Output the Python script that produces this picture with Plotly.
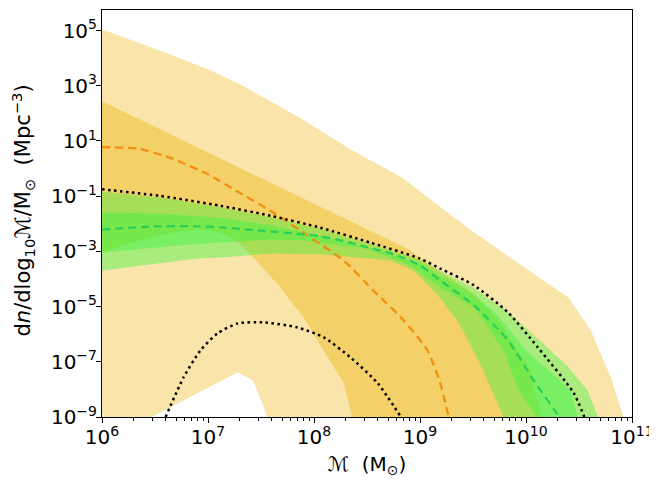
import numpy as np
import plotly.graph_objects as go

# all values are log10 of mass / number density

# light orange band
lo_up_x = [6.0, 6.6, 7.0, 7.3, 7.87, 8.37, 8.82, 9.45, 10.0, 10.4, 10.61, 10.8, 10.92]
lo_up_y = [5.05, 4.2, 3.6, 3.06, 1.83, 0.64, -0.3, -2.14, -3.62, -4.67, -5.86, -7.56, -9.0]
lo_dn_x = [6.0, 6.47, 7.28, 7.42, 7.49, 7.56, 10.92]
lo_dn_y = [-9.0, -9.0, -7.38, -7.66, -8.28, -9.0, -9.0]

# dark orange band
do_up_x = [6.0, 8.9, 9.19, 9.5, 9.76, 9.92, 10.03, 10.14]
do_up_y = [2.44, -2.94, -3.75, -4.5, -5.6, -6.58, -7.19, -9.0]
do_dn_x = [6.0, 6.29, 6.61, 6.9, 7.12, 7.3, 7.37, 7.65, 7.9, 8.09, 8.28, 8.36]
do_dn_y = [-3.04, -2.68, -2.36, -2.18, -2.32, -2.72, -2.97, -4.16, -5.39, -6.58, -7.77, -9.0]

# outer green band
go_up_x = [6.0, 6.55, 7.12, 7.59, 8.06, 8.53, 9.0, 9.19, 9.51, 9.83, 10.15, 10.4, 10.58, 10.68]
go_up_y = [-0.84, -1.05, -1.4, -1.76, -2.18, -2.72, -3.3, -3.7, -4.33, -5.2, -6.3, -7.2, -8.03, -9.0]
go_dn_x = [6.0, 6.5, 6.9, 7.12, 7.59, 8.06, 8.72, 8.94, 9.17, 9.36, 9.57, 9.79]
go_dn_y = [-3.69, -3.45, -3.26, -3.22, -3.08, -3.1, -3.33, -3.69, -4.6, -5.55, -7.1, -9.0]

# inner green band
gi_up_x = [6.0, 6.5, 7.12, 7.59, 8.06, 8.53, 9.0, 9.19, 9.4, 9.6, 9.73, 10.0, 10.2, 10.42, 10.49]
gi_up_y = [-1.6, -1.62, -1.78, -2.05, -2.43, -2.88, -3.42, -3.9, -4.3, -4.85, -5.3, -6.58, -7.27, -8.03, -9.0]
gi_dn_x = [6.0, 6.5, 6.9, 7.59, 7.87, 8.5, 8.91, 9.19, 9.51, 9.79, 9.93, 10.1]
gi_dn_y = [-3.04, -2.85, -2.72, -2.58, -2.6, -2.9, -3.51, -4.31, -5.03, -6.58, -8.03, -9.0]

# orange dashed
od_x = [6.0, 6.36, 6.67, 6.99, 7.3, 7.62, 7.94, 8.28, 8.56, 8.82, 9.07, 9.19, 9.27]
od_y = [0.78, 0.71, 0.35, -0.19, -0.88, -1.6, -2.43, -3.33, -4.42, -5.39, -6.58, -7.77, -9.0]

# green dashed
gd_x = [6.0, 6.45, 6.9, 7.12, 7.5, 8.06, 8.34, 8.5, 8.75, 9.0, 9.19, 9.51, 9.83, 10.07, 10.3, 10.32]
gd_y = [-2.21, -2.1, -2.09, -2.13, -2.25, -2.45, -2.68, -2.85, -3.1, -3.51, -4.05, -4.96, -6.22, -7.66, -8.93, -9.1]

# dotted lines
dt1_x = [6.0, 6.55, 7.12, 7.59, 8.06, 8.53, 9.0, 9.19, 9.51, 9.83, 10.11, 10.45, 10.55]
dt1_y = [-0.75, -0.99, -1.35, -1.71, -2.14, -2.68, -3.26, -3.62, -4.23, -5.21, -6.47, -8.13, -9.0]
dt2_x = [6.6, 6.77, 6.93, 7.09, 7.28, 7.52, 7.84, 8.09, 8.34, 8.6, 8.82]
dt2_y = [-9.0, -7.56, -6.58, -5.97, -5.61, -5.57, -5.75, -6.11, -6.83, -7.77, -9.0]


def p(v):
    return 10 ** np.array(v, dtype=float)


def band(fig, xu, yu, xd, yd, color):
    x = list(xu) + list(xd)[::-1]
    y = list(yu) + list(yd)[::-1]
    fig.add_trace(go.Scatter(x=p(x), y=p(y), fill='toself', fillcolor=color,
                             mode='lines', line=dict(width=0), hoverinfo='skip'))


def curve(fig, x, y, color, dash, width):
    fig.add_trace(go.Scatter(x=p(x), y=p(y), mode='lines', line_shape='spline',
                             line=dict(color=color, dash=dash, width=width, smoothing=0.6)))


fig = go.Figure()
band(fig, lo_up_x, lo_up_y, lo_dn_x, lo_dn_y, '#f9e4a9')
band(fig, do_up_x, do_up_y, do_dn_x, do_dn_y, '#f3d068')
band(fig, go_up_x, go_up_y, go_dn_x, go_dn_y, 'rgba(50,245,60,0.4)')
band(fig, gi_up_x, gi_up_y, gi_dn_x, gi_dn_y, 'rgba(50,245,60,0.4)')
curve(fig, od_x, od_y, '#f0900e', '8px,5px', 2.3)
curve(fig, gd_x, gd_y, '#2ccf5a', '8px,5px', 2.3)
curve(fig, dt1_x, dt1_y, 'black', '2.5px,3.5px', 2.5)
curve(fig, dt2_x, dt2_y, 'black', '2.5px,3.5px', 2.5)

yt = [5, 3, 1, -1, -3, -5, -7, -9]
yt_text = ['10<sup>%s</sup>' % str(v).replace('-', '\u2212') for v in yt]
xt = [6, 7, 8, 9, 10, 11]
xt_text = ['10<sup>%d</sup>' % v for v in xt]

font = dict(family='DejaVu Sans', size=20, color='black')
tickfont = dict(family='DejaVu Sans', size=20, color='black')
fig.update_layout(
    width=657, height=482,
    margin=dict(l=94, r=33, t=2, b=73),
    plot_bgcolor='white', paper_bgcolor='white',
    showlegend=False, font=font,
    xaxis=dict(type='log', range=[6, 11], showgrid=False, zeroline=False,
               showline=True, mirror=True, linecolor='black', linewidth=1,
               ticks='outside', ticklen=5, tickcolor='black', tickfont=tickfont,
               ticklabelstandoff=-3,
               tickvals=[10 ** v for v in xt], ticktext=xt_text, automargin=False,
               minor=dict(ticks='outside', ticklen=3, tickcolor='black', dtick='D1'),
               title=dict(text='\u2133  (M<sub>\u2299</sub>)', standoff=8, font=font)),
    yaxis=dict(type='log', range=[-9, 5.746], showgrid=False, zeroline=False,
               showline=True, mirror=True, linecolor='black', linewidth=1,
               ticks='outside', ticklen=5, tickcolor='black', tickfont=tickfont,
               ticklabelstandoff=-5,
               tickvals=[10 ** v for v in yt], ticktext=yt_text, automargin=False),
    annotations=[dict(text='d<i>n</i>/dlog<sub>10</sub>\u2133/M<sub>\u2299</sub>  (Mpc<sup>\u22123</sup>)',
                      xref='paper', yref='paper', x=0, y=0.5, xshift=-80, yshift=3,
                      xanchor='center', yanchor='middle', textangle=-90,
                      showarrow=False, font=dict(family='DejaVu Sans', size=21, color='black'))],
)

fig.write_html("out.html")
